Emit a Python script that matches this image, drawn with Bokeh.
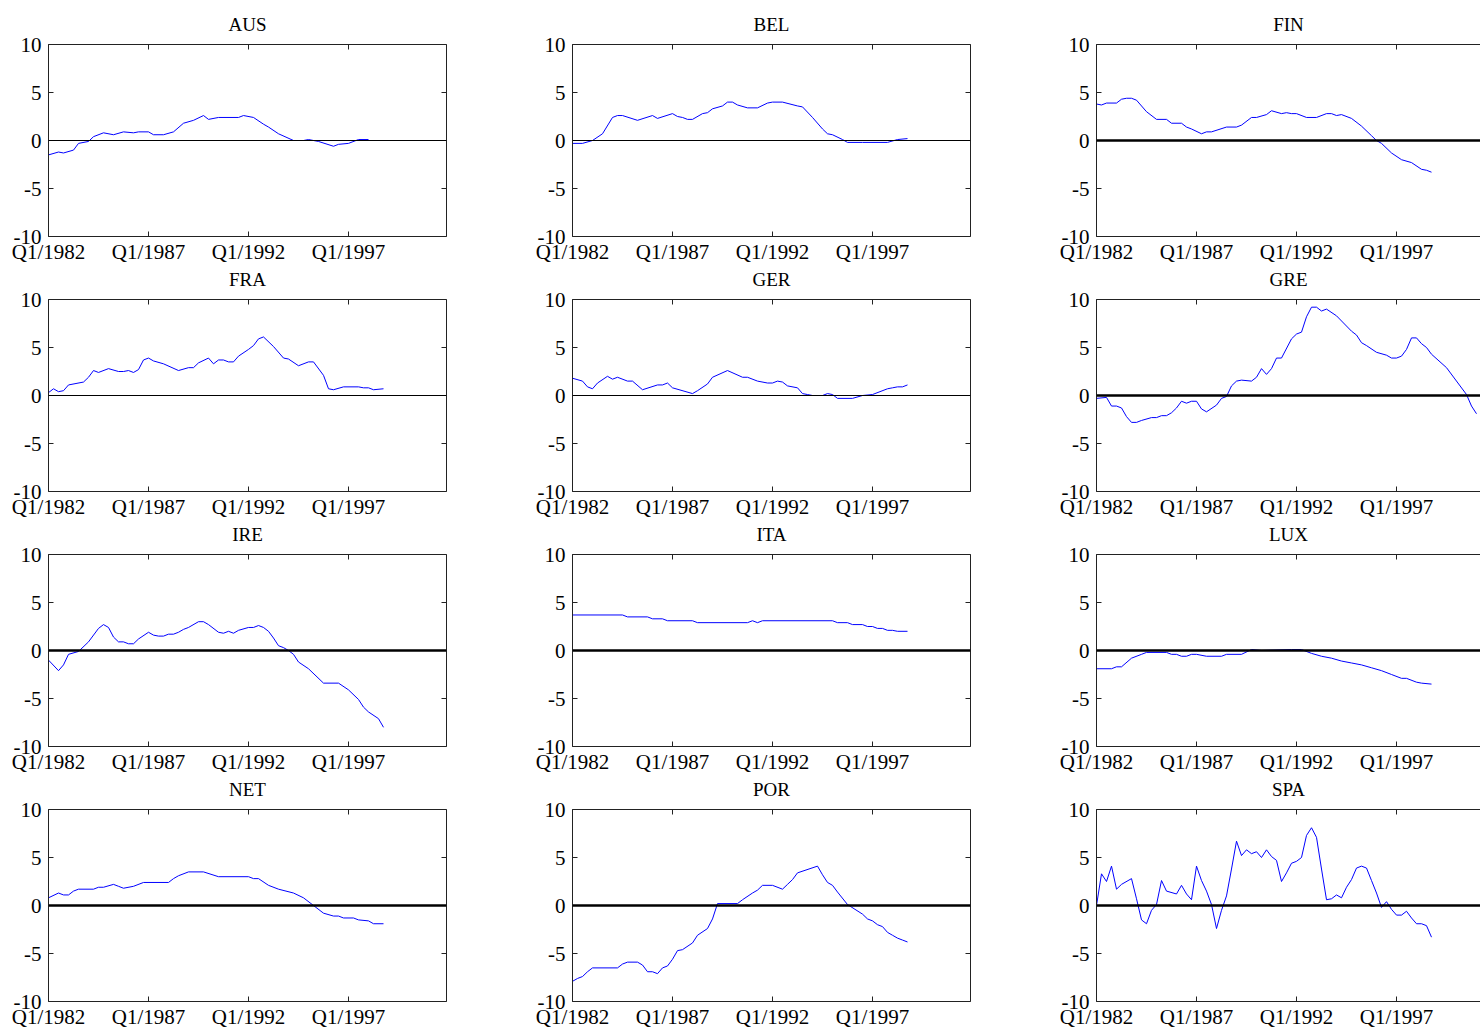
from bokeh.plotting import figure
from bokeh.layouts import gridplot
from bokeh.models import LinearAxis, FixedTicker, Span, Range1d, Title
from bokeh.embed import file_html
from bokeh.resources import INLINE

# quarter index 0 = Q1/1982
tick_pos = [0, 20, 40, 60]
tick_labels = ["Q1/1982", "Q1/1987", "Q1/1992", "Q1/1997"]
y_ticks = [-10, -5, 0, 5, 10]

countries = ["AUS", "BEL", "FIN", "FRA", "GER", "GRE", "IRE", "ITA", "LUX", "NET", "POR", "SPA"]
thin_zero = ["AUS", "BEL", "FRA", "GER"]

AUS_q = [0, 2, 3, 5, 6, 8, 9, 11, 13, 15, 17, 18, 20, 21, 23, 25, 27, 29, 31, 32, 34, 38, 39, 41, 43, 44, 46, 49, 51, 52, 54, 57, 58, 60, 62, 64]
AUS_v = [-1.5, -1.2, -1.3, -1.0, -0.3, -0.1, 0.4, 0.8, 0.6, 0.9, 0.8, 0.9, 0.9, 0.6, 0.6, 0.9, 1.8, 2.1, 2.6, 2.2,
         2.4, 2.4, 2.6, 2.4, 1.7, 1.4, 0.7, 0.0, 0.0, 0.1, -0.1, -0.6, -0.4, -0.3, 0.1, 0.1]

BEL_q = [0, 2, 4, 6, 8, 9, 10, 13, 16, 17, 20, 21, 22, 23, 24, 26, 27, 28, 30, 31, 32, 33, 35, 37, 39, 40, 42, 45, 46, 48,
         50, 51, 52, 54, 55, 58, 63, 65, 67]
BEL_v = [-0.3, -0.3, 0.0, 0.7, 2.4, 2.6, 2.6, 2.1, 2.6, 2.3, 2.8, 2.5, 2.4, 2.2, 2.2, 2.8, 2.9, 3.3, 3.6, 4.0,
         4.0, 3.7, 3.4, 3.4, 3.9, 4.0, 4.0, 3.6, 3.5, 2.4, 1.2, 0.7, 0.6, 0.1, -0.2, -0.2, -0.2, 0.1, 0.2]

FIN_q = [0, 1, 2, 4, 5, 6, 7, 8, 10, 12, 14, 15, 17, 18, 19, 21, 22, 23, 26, 28, 29, 31, 32, 34, 35, 37, 38, 39, 40, 42,
         44, 46, 47, 48, 49, 51, 53, 55, 56, 57, 59, 61, 63, 65, 66, 67]
FIN_v = [3.8, 3.7, 3.9, 3.9, 4.3, 4.4, 4.4, 4.2, 3.0, 2.2, 2.2, 1.8, 1.8, 1.4, 1.2, 0.7, 0.9, 0.9, 1.4, 1.4,
         1.6, 2.4, 2.4, 2.7, 3.1, 2.8, 2.9, 2.8, 2.8, 2.4, 2.4, 2.8, 2.8, 2.6, 2.7, 2.3, 1.5, 0.5, 0.0, -0.3,
         -1.3, -2.0, -2.3, -3.0, -3.1, -3.3]

FRA_q = [0, 1, 2, 3, 4, 7, 8, 9, 10, 12, 14, 15, 16, 17, 18, 19, 20, 21, 23, 26, 28, 29, 30, 32, 33, 34, 35, 36, 37, 38,
         40, 41, 42, 43, 45, 47, 48, 50, 52, 53, 55, 56, 57, 59, 62, 63, 64, 65, 67]
FRA_v = [0.3, 0.7, 0.4, 0.5, 1.1, 1.4, 1.9, 2.6, 2.4, 2.8, 2.5, 2.5, 2.6, 2.4, 2.7, 3.7, 3.9, 3.6, 3.3, 2.6,
         2.9, 2.9, 3.4, 3.9, 3.3, 3.7, 3.7, 3.5, 3.5, 4.1, 4.8, 5.2, 5.9, 6.1, 5.1, 3.9, 3.8, 3.1, 3.5, 3.5,
         2.1, 0.7, 0.6, 0.9, 0.9, 0.8, 0.8, 0.6, 0.7]

GER_q = [0, 2, 3, 4, 5, 7, 8, 9, 11, 12, 14, 17, 18, 19, 20, 24, 25, 27, 28, 31, 34, 35, 37, 39, 40, 41, 42, 43, 45, 46,
         47, 48, 50, 51, 52, 53, 56, 58, 60, 63, 64, 65, 66, 67]
GER_v = [1.8, 1.5, 0.9, 0.7, 1.3, 2.0, 1.7, 1.9, 1.5, 1.5, 0.6, 1.1, 1.1, 1.3, 0.8, 0.2, 0.5, 1.2, 1.9, 2.6,
         1.9, 1.9, 1.5, 1.3, 1.3, 1.5, 1.4, 1.0, 0.8, 0.2, 0.1, 0.0, 0.0, 0.2, 0.1, -0.3, -0.3, 0.0, 0.1, 0.7,
         0.8, 0.9, 0.9, 1.1]

GRE_q = [0, 2, 3, 4, 5, 6, 7, 8, 9, 11, 12, 13, 14, 15, 16, 17, 18, 19, 20, 21, 22, 24, 25, 26, 27, 28, 29, 31, 32, 33,
         34, 35, 36, 37, 39, 40, 41, 42, 43, 44, 45, 46, 48, 51, 52, 53, 54, 56, 58, 59, 60, 61, 62, 63, 64, 65, 66, 67,
         70, 74, 75, 76]
GRE_v = [-0.3, -0.2, -1.1, -1.1, -1.3, -2.2, -2.8, -2.8, -2.6, -2.3, -2.3, -2.1, -2.1, -1.8, -1.3, -0.6, -0.8, -0.6,
         -0.6, -1.4, -1.7, -1.0, -0.3, -0.1, 1.0, 1.5, 1.6, 1.5, 1.9, 2.8, 2.2, 2.8, 3.9, 3.9, 5.9, 6.4, 6.6, 8.2,
         9.2, 9.2, 8.8, 9.0, 8.3, 6.7, 6.3, 5.5, 5.2, 4.5, 4.2, 3.9, 3.9, 4.1, 4.8, 6.0, 6.0, 5.4, 5.0, 4.3, 2.9,
         0.1, -1.1, -1.9]

IRE_q = [0, 2, 3, 4, 6, 8, 10, 11, 12, 13, 14, 15, 16, 17, 18, 20, 21, 22, 23, 24, 25, 26, 27, 28, 30, 31, 32, 34, 35, 36,
         37, 38, 40, 41, 42, 43, 44, 45, 46, 47, 48, 49, 50, 52, 55, 58, 60, 62, 63, 64, 66, 67]
IRE_v = [-1.0, -2.1, -1.5, -0.4, -0.1, 0.9, 2.3, 2.7, 2.4, 1.4, 0.9, 0.9, 0.7, 0.7, 1.2, 1.9, 1.6, 1.5, 1.5, 1.7,
         1.7, 1.9, 2.2, 2.4, 3.0, 3.0, 2.7, 1.9, 1.8, 2.0, 1.8, 2.1, 2.4, 2.4, 2.6, 2.4, 2.0, 1.3, 0.5, 0.3,
         0.0, -0.4, -1.2, -1.9, -3.4, -3.4, -4.1, -5.1, -5.9, -6.4, -7.1, -8.0]

ITA_q = [0, 10, 11, 15, 16, 18, 19, 24, 25, 35, 36, 37, 38, 52, 53, 55, 56, 58, 59, 60, 61, 62, 63, 64, 65, 67]
ITA_v = [3.7, 3.7, 3.5, 3.5, 3.3, 3.3, 3.1, 3.1, 2.9, 2.9, 3.1, 2.9, 3.1, 3.1, 2.9, 2.9, 2.7, 2.7, 2.5, 2.5,
         2.3, 2.3, 2.1, 2.1, 2.0, 2.0]

LUX_q = [0, 3, 4, 5, 7, 9, 10, 14, 15, 16, 17, 18, 19, 20, 22, 25, 26, 29, 31, 33, 39, 41, 43, 45, 47, 49, 51, 53, 55, 57,
         59, 61, 62, 64, 65, 67]
LUX_v = [-1.9, -1.9, -1.7, -1.7, -0.8, -0.4, -0.2, -0.2, -0.4, -0.4, -0.6, -0.6, -0.4, -0.4, -0.6, -0.6, -0.4, -0.4,
         0.1, 0.0, 0.1, 0.1, -0.3, -0.6, -0.8, -1.1, -1.3, -1.5, -1.8, -2.1, -2.5, -2.9, -2.9, -3.3, -3.4, -3.5]

NET_q = [0, 2, 3, 4, 5, 6, 9, 10, 11, 13, 14, 15, 17, 19, 24, 25, 26, 28, 31, 34, 40, 41, 42, 44, 46, 49, 51, 53, 55, 57,
         58, 59, 61, 62, 64, 65, 67]
NET_v = [0.8, 1.3, 1.1, 1.1, 1.5, 1.7, 1.7, 1.9, 1.9, 2.2, 2.0, 1.8, 2.0, 2.4, 2.4, 2.8, 3.1, 3.5, 3.5, 3.0,
         3.0, 2.8, 2.8, 2.1, 1.7, 1.3, 0.8, 0.0, -0.8, -1.1, -1.1, -1.3, -1.3, -1.5, -1.6, -1.9, -1.9]

POR_q = [0, 1, 2, 3, 4, 9, 10, 11, 13, 14, 15, 16, 17, 18, 19, 20, 21, 22, 24, 25, 27, 28, 29, 33, 34, 36, 37, 38, 40, 42,
         43, 44, 45, 49, 50, 51, 52, 53, 55, 58, 59, 60, 61, 62, 63, 64, 65, 66, 67]
POR_v = [-7.9, -7.6, -7.4, -6.9, -6.5, -6.5, -6.1, -5.9, -5.9, -6.2, -6.9, -6.9, -7.1, -6.5, -6.3, -5.6, -4.7, -4.6,
         -3.9, -3.1, -2.4, -1.4, 0.2, 0.2, 0.6, 1.3, 1.6, 2.1, 2.1, 1.7, 2.2, 2.7, 3.4, 4.1, 3.2, 2.4, 2.1, 1.4,
         0.1, -0.9, -1.4, -1.6, -2.0, -2.2, -2.8, -3.1, -3.4, -3.6, -3.8]

SPA_q = [0, 1, 2, 3, 4, 5, 7, 8, 9, 10, 11, 12, 13, 14, 16, 17, 18, 19, 20, 21, 22, 23, 24, 25, 26, 27, 28, 29, 30, 31,
         32, 33, 34, 35, 36, 37, 38, 39, 40, 41, 42, 43, 44, 45, 46, 47, 48, 49, 50, 51, 52, 53, 54, 55, 56, 57, 58, 59,
         60, 61, 62, 63, 64, 65, 66, 67]
SPA_v = [0.0, 3.3, 2.5, 4.1, 1.7, 2.2, 2.8, 0.7, -1.5, -1.9, -0.5, 0.1, 2.6, 1.5, 1.2, 2.1, 1.2, 0.6, 4.1, 2.6,
         1.5, 0.1, -2.4, -0.5, 1.0, 3.8, 6.7, 5.2, 5.8, 5.4, 5.6, 5.0, 5.8, 5.1, 4.7, 2.5, 3.4, 4.4, 4.6, 5.0,
         7.3, 8.1, 7.1, 3.8, 0.6, 0.7, 1.1, 0.8, 1.9, 2.7, 3.9, 4.1, 3.9, 2.6, 1.3, -0.2, 0.4, -0.4, -1.0, -1.0,
         -0.6, -1.3, -1.9, -1.9, -2.1, -3.3]

series = {
    "AUS": (AUS_q, AUS_v), "BEL": (BEL_q, BEL_v), "FIN": (FIN_q, FIN_v),
    "FRA": (FRA_q, FRA_v), "GER": (GER_q, GER_v), "GRE": (GRE_q, GRE_v),
    "IRE": (IRE_q, IRE_v), "ITA": (ITA_q, ITA_v), "LUX": (LUX_q, LUX_v),
    "NET": (NET_q, NET_v), "POR": (POR_q, POR_v), "SPA": (SPA_q, SPA_v),
}

FONT = "Liberation Serif"


def style_axis(ax, ticks, labels=True):
    ax.ticker = FixedTicker(ticks=ticks)
    ax.major_tick_in = 5
    ax.major_tick_out = 0
    ax.minor_tick_line_color = None
    ax.axis_line_color = "#222222"
    ax.major_tick_line_color = "#222222"
    ax.major_label_text_font = FONT
    ax.major_label_text_font_size = "21px"
    ax.major_label_text_color = "black" if labels else None
    ax.major_label_standoff = 3


def make_title(text, standoff):
    t = Title(text=text, align="center", text_font=FONT, text_font_size="19px",
              text_font_style="normal", text_color="black", standoff=standoff)
    return t


grid = []
for i, name in enumerate(countries):
    col = i % 3
    row = i // 3
    last_col = col == 2
    x_end = 76.8 if last_col else 79.6
    w = 432 if last_col else 524
    top_b = 44 if row == 0 else 10
    bot_b = 28 if row == 3 else 51
    h = top_b + 194 + bot_b
    p = figure(width=w, height=h, x_range=Range1d(0, x_end), y_range=Range1d(-10, 10),
               toolbar_location=None, tools="", output_backend="svg",
               x_axis_location="below", y_axis_location="left",
               min_border_left=48, min_border_right=0 if last_col else 78,
               min_border_top=top_b, min_border_bottom=bot_b)
    p.outline_line_color = None
    p.grid.visible = False
    p.background_fill_color = "white"
    p.border_fill_color = "white"

    style_axis(p.xaxis[0], tick_pos)
    p.xaxis[0].major_label_overrides = {t: l for t, l in zip(tick_pos, tick_labels)}
    style_axis(p.yaxis[0], y_ticks)
    p.yaxis[0].major_label_overrides = {t: str(t) for t in y_ticks}
    p.yaxis[0].major_label_standoff = 7

    top = LinearAxis()
    style_axis(top, tick_pos, labels=False)
    top.major_label_text_font_size = "0px"
    p.add_layout(top, "above")
    if not last_col:
        right = LinearAxis()
        style_axis(right, y_ticks, labels=False)
        right.major_label_text_font_size = "0px"
        p.add_layout(right, "right")

    # first-row titles sit above their panel; the others are drawn
    # under the panel directly above, in the gap between the rows
    if row == 0:
        p.add_layout(make_title(name, 20), "above")
    if row < 3:
        p.add_layout(make_title(countries[i + 3], 0), "below")

    zero_w = 1 if name in thin_zero else 2.5
    p.add_layout(Span(location=0, dimension="width", line_color="black", line_width=zero_w))

    q, v = series[name]
    assert len(q) == len(v), name
    p.line(q, v, line_color="#0000ff", line_width=1)
    grid.append(p)

layout = gridplot([grid[0:3], grid[3:6], grid[6:9], grid[9:12]], toolbar_location=None)

open("out.html", "w").write(file_html(layout, INLINE))
